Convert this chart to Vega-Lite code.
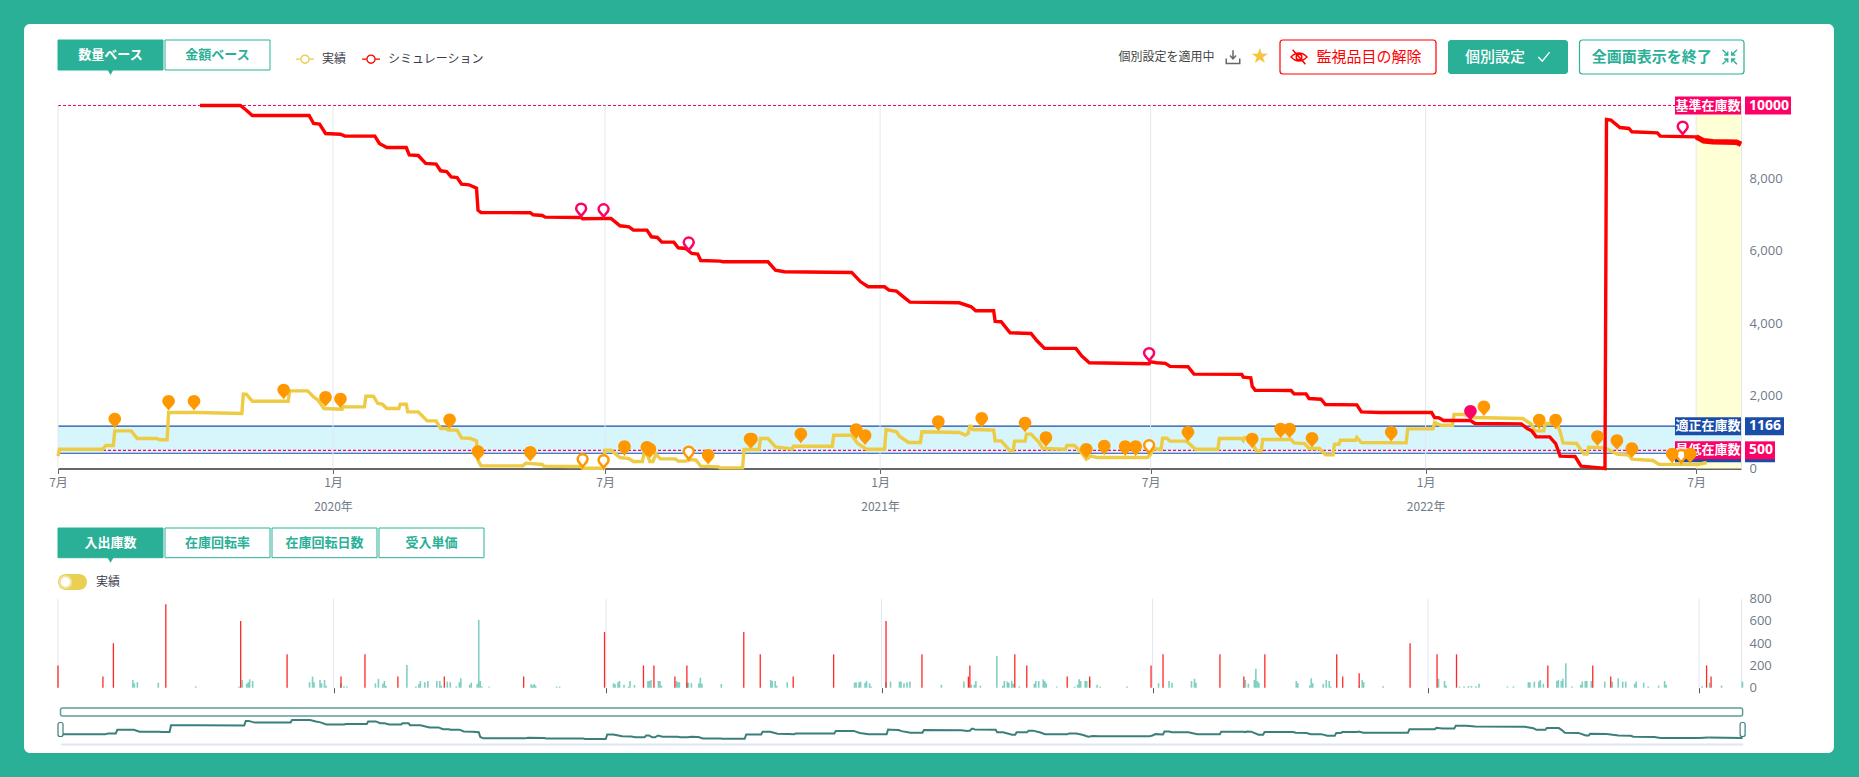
{"$schema":"https://vega.github.io/schema/vega-lite/v6.json","width":1810,"height":729,"autosize":{"type":"none"},"padding":{"left":24,"top":24,"right":25,"bottom":24},"background":"#2bb098","view":{"fill":"#ffffff","stroke":null,"cornerRadius":6},"config":{"font":"Noto Sans CJK JP","text":{"font":"Noto Sans CJK JP"}},
"datasets":{
"stock":[
{"d":"2019-07-01","v":340,"s":"実績"},{"d":"2019-07-02","v":532,"s":"実績"},{"d":"2019-07-31","v":532,"s":"実績"},{"d":"2019-08-02","v":633,"s":"実績"},{"d":"2019-08-07","v":633,"s":"実績"},{"d":"2019-08-08","v":1037,"s":"実績"},{"d":"2019-08-19","v":1037,"s":"実績"},{"d":"2019-08-23","v":826,"s":"実績"},{"d":"2019-09-05","v":826,"s":"実績"},{"d":"2019-09-07","v":790,"s":"実績"},{"d":"2019-09-12","v":790,"s":"実績"},{"d":"2019-09-13","v":1542,"s":"実績"},{"d":"2019-10-02","v":1542,"s":"実績"},{"d":"2019-11-01","v":1515,"s":"実績"},{"d":"2019-11-02","v":2047,"s":"実績"},{"d":"2019-11-04","v":2047,"s":"実績"},{"d":"2019-11-08","v":1854,"s":"実績"},{"d":"2019-12-02","v":1854,"s":"実績"},{"d":"2019-12-03","v":2139,"s":"実績"},{"d":"2019-12-15","v":2139,"s":"実績"},{"d":"2019-12-19","v":1974,"s":"実績"},{"d":"2019-12-22","v":1882,"s":"実績"},{"d":"2019-12-26","v":1652,"s":"実績"},{"d":"2020-01-07","v":1634,"s":"実績"},{"d":"2020-01-08","v":1698,"s":"実績"},{"d":"2020-01-22","v":1698,"s":"実績"},{"d":"2020-01-23","v":1992,"s":"実績"},{"d":"2020-01-28","v":1992,"s":"実績"},{"d":"2020-01-31","v":1790,"s":"実績"},{"d":"2020-02-03","v":1772,"s":"実績"},{"d":"2020-02-06","v":1652,"s":"実績"},{"d":"2020-02-14","v":1652,"s":"実績"},{"d":"2020-02-15","v":1772,"s":"実績"},{"d":"2020-02-19","v":1772,"s":"実績"},{"d":"2020-02-20","v":1560,"s":"実績"},{"d":"2020-02-27","v":1560,"s":"実績"},{"d":"2020-03-04","v":1313,"s":"実績"},{"d":"2020-03-10","v":1313,"s":"実績"},{"d":"2020-03-13","v":1102,"s":"実績"},{"d":"2020-03-17","v":1102,"s":"実績"},{"d":"2020-03-18","v":1056,"s":"実績"},{"d":"2020-03-24","v":1056,"s":"実績"},{"d":"2020-03-27","v":845,"s":"実績"},{"d":"2020-04-02","v":826,"s":"実績"},{"d":"2020-04-06","v":762,"s":"実績"},{"d":"2020-04-07","v":230,"s":"実績"},{"d":"2020-04-09","v":73,"s":"実績"},{"d":"2020-05-07","v":73,"s":"実績"},{"d":"2020-05-09","v":147,"s":"実績"},{"d":"2020-05-20","v":110,"s":"実績"},{"d":"2020-05-21","v":64,"s":"実績"},{"d":"2020-06-08","v":55,"s":"実績"},{"d":"2020-06-15","v":55,"s":"実績"},{"d":"2020-06-16","v":5,"s":"実績"},{"d":"2020-06-30","v":5,"s":"実績"},{"d":"2020-07-01","v":505,"s":"実績"},{"d":"2020-07-05","v":505,"s":"実績"},{"d":"2020-07-11","v":303,"s":"実績"},{"d":"2020-07-17","v":275,"s":"実績"},{"d":"2020-07-20","v":193,"s":"実績"},{"d":"2020-07-26","v":193,"s":"実績"},{"d":"2020-07-27","v":395,"s":"実績"},{"d":"2020-07-29","v":395,"s":"実績"},{"d":"2020-07-31","v":193,"s":"実績"},{"d":"2020-08-02","v":193,"s":"実績"},{"d":"2020-08-04","v":395,"s":"実績"},{"d":"2020-08-07","v":266,"s":"実績"},{"d":"2020-08-17","v":266,"s":"実績"},{"d":"2020-08-19","v":202,"s":"実績"},{"d":"2020-08-24","v":202,"s":"実績"},{"d":"2020-08-26","v":248,"s":"実績"},{"d":"2020-08-31","v":230,"s":"実績"},{"d":"2020-09-03","v":64,"s":"実績"},{"d":"2020-09-15","v":46,"s":"実績"},{"d":"2020-09-16","v":18,"s":"実績"},{"d":"2020-10-01","v":18,"s":"実績"},{"d":"2020-10-02","v":523,"s":"実績"},{"d":"2020-10-12","v":523,"s":"実績"},{"d":"2020-10-13","v":826,"s":"実績"},{"d":"2020-10-18","v":826,"s":"実績"},{"d":"2020-10-23","v":597,"s":"実績"},{"d":"2020-10-30","v":560,"s":"実績"},{"d":"2020-11-03","v":532,"s":"実績"},{"d":"2020-11-04","v":615,"s":"実績"},{"d":"2020-11-30","v":615,"s":"実績"},{"d":"2020-12-01","v":918,"s":"実績"},{"d":"2020-12-13","v":918,"s":"実績"},{"d":"2020-12-17","v":688,"s":"実績"},{"d":"2020-12-23","v":532,"s":"実績"},{"d":"2021-01-04","v":532,"s":"実績"},{"d":"2021-01-05","v":1074,"s":"実績"},{"d":"2021-01-07","v":1056,"s":"実績"},{"d":"2021-01-12","v":1010,"s":"実績"},{"d":"2021-01-14","v":890,"s":"実績"},{"d":"2021-01-20","v":716,"s":"実績"},{"d":"2021-01-28","v":716,"s":"実績"},{"d":"2021-01-29","v":1010,"s":"実績"},{"d":"2021-02-23","v":991,"s":"実績"},{"d":"2021-02-27","v":918,"s":"実績"},{"d":"2021-03-01","v":964,"s":"実績"},{"d":"2021-03-02","v":1166,"s":"実績"},{"d":"2021-03-03","v":1166,"s":"実績"},{"d":"2021-03-04","v":1074,"s":"実績"},{"d":"2021-03-18","v":1056,"s":"実績"},{"d":"2021-03-19","v":762,"s":"実績"},{"d":"2021-03-23","v":762,"s":"実績"},{"d":"2021-03-29","v":487,"s":"実績"},{"d":"2021-03-31","v":487,"s":"実績"},{"d":"2021-04-01","v":753,"s":"実績"},{"d":"2021-04-08","v":753,"s":"実績"},{"d":"2021-04-09","v":946,"s":"実績"},{"d":"2021-04-12","v":946,"s":"実績"},{"d":"2021-04-17","v":734,"s":"実績"},{"d":"2021-04-20","v":551,"s":"実績"},{"d":"2021-05-05","v":532,"s":"実績"},{"d":"2021-05-06","v":633,"s":"実績"},{"d":"2021-05-11","v":633,"s":"実績"},{"d":"2021-05-15","v":477,"s":"実績"},{"d":"2021-05-19","v":257,"s":"実績"},{"d":"2021-05-22","v":340,"s":"実績"},{"d":"2021-05-26","v":303,"s":"実績"},{"d":"2021-06-29","v":303,"s":"実績"},{"d":"2021-07-01","v":395,"s":"実績"},{"d":"2021-07-03","v":551,"s":"実績"},{"d":"2021-07-08","v":523,"s":"実績"},{"d":"2021-07-09","v":835,"s":"実績"},{"d":"2021-07-12","v":835,"s":"実績"},{"d":"2021-07-14","v":753,"s":"実績"},{"d":"2021-07-25","v":753,"s":"実績"},{"d":"2021-07-31","v":532,"s":"実績"},{"d":"2021-08-15","v":532,"s":"実績"},{"d":"2021-08-16","v":826,"s":"実績"},{"d":"2021-08-31","v":826,"s":"実績"},{"d":"2021-09-01","v":770,"s":"実績"},{"d":"2021-09-02","v":854,"s":"実績"},{"d":"2021-09-05","v":826,"s":"実績"},{"d":"2021-09-10","v":477,"s":"実績"},{"d":"2021-09-13","v":477,"s":"実績"},{"d":"2021-09-14","v":799,"s":"実績"},{"d":"2021-10-03","v":799,"s":"実績"},{"d":"2021-10-05","v":707,"s":"実績"},{"d":"2021-10-12","v":688,"s":"実績"},{"d":"2021-10-15","v":551,"s":"実績"},{"d":"2021-10-22","v":551,"s":"実績"},{"d":"2021-10-26","v":376,"s":"実績"},{"d":"2021-10-31","v":376,"s":"実績"},{"d":"2021-11-01","v":670,"s":"実績"},{"d":"2021-11-04","v":670,"s":"実績"},{"d":"2021-11-05","v":780,"s":"実績"},{"d":"2021-11-15","v":780,"s":"実績"},{"d":"2021-11-16","v":854,"s":"実績"},{"d":"2021-11-19","v":716,"s":"実績"},{"d":"2021-12-19","v":707,"s":"実績"},{"d":"2021-12-20","v":1092,"s":"実績"},{"d":"2022-01-06","v":1092,"s":"実績"},{"d":"2022-01-07","v":1267,"s":"実績"},{"d":"2022-01-11","v":1193,"s":"実績"},{"d":"2022-01-19","v":1193,"s":"実績"},{"d":"2022-01-20","v":1487,"s":"実績"},{"d":"2022-01-27","v":1487,"s":"実績"},{"d":"2022-02-02","v":1404,"s":"実績"},{"d":"2022-03-07","v":1377,"s":"実績"},{"d":"2022-03-13","v":1212,"s":"実績"},{"d":"2022-03-15","v":1037,"s":"実績"},{"d":"2022-03-21","v":1037,"s":"実績"},{"d":"2022-03-22","v":1239,"s":"実績"},{"d":"2022-03-30","v":1239,"s":"実績"},{"d":"2022-04-01","v":1010,"s":"実績"},{"d":"2022-04-03","v":707,"s":"実績"},{"d":"2022-04-12","v":688,"s":"実績"},{"d":"2022-04-17","v":395,"s":"実績"},{"d":"2022-04-19","v":395,"s":"実績"},{"d":"2022-04-20","v":588,"s":"実績"},{"d":"2022-05-01","v":569,"s":"実績"},{"d":"2022-05-09","v":395,"s":"実績"},{"d":"2022-05-17","v":367,"s":"実績"},{"d":"2022-05-19","v":257,"s":"実績"},{"d":"2022-06-02","v":220,"s":"実績"},{"d":"2022-06-06","v":119,"s":"実績"},{"d":"2022-07-02","v":110,"s":"実績"},{"d":"2022-07-08","v":165,"s":"実績"},
{"d":"2019-10-04","v":10000,"s":"シミュレーション"},{"d":"2019-10-31","v":10000,"s":"シミュレーション"},{"d":"2019-11-04","v":9871,"s":"シミュレーション"},{"d":"2019-11-08","v":9725,"s":"シミュレーション"},{"d":"2019-12-16","v":9725,"s":"シミュレーション"},{"d":"2019-12-19","v":9504,"s":"シミュレーション"},{"d":"2019-12-23","v":9486,"s":"シミュレーション"},{"d":"2019-12-27","v":9229,"s":"シミュレーション"},{"d":"2020-01-06","v":9210,"s":"シミュレーション"},{"d":"2020-01-09","v":9155,"s":"シミュレーション"},{"d":"2020-01-29","v":9155,"s":"シミュレーション"},{"d":"2020-02-01","v":8953,"s":"シミュレーション"},{"d":"2020-02-06","v":8843,"s":"シミュレーション"},{"d":"2020-02-19","v":8843,"s":"シミュレーション"},{"d":"2020-02-21","v":8641,"s":"シミュレーション"},{"d":"2020-02-27","v":8623,"s":"シミュレーション"},{"d":"2020-03-03","v":8403,"s":"シミュレーション"},{"d":"2020-03-10","v":8384,"s":"シミュレーション"},{"d":"2020-03-13","v":8201,"s":"シミュレーション"},{"d":"2020-03-17","v":8182,"s":"シミュレーション"},{"d":"2020-03-20","v":8035,"s":"シミュレーション"},{"d":"2020-03-24","v":8017,"s":"シミュレーション"},{"d":"2020-03-27","v":7833,"s":"シミュレーション"},{"d":"2020-04-01","v":7815,"s":"シミュレーション"},{"d":"2020-04-06","v":7723,"s":"シミュレーション"},{"d":"2020-04-07","v":7117,"s":"シミュレーション"},{"d":"2020-04-09","v":7053,"s":"シミュレーション"},{"d":"2020-05-12","v":7044,"s":"シミュレーション"},{"d":"2020-05-14","v":6989,"s":"シミュレーション"},{"d":"2020-05-20","v":6970,"s":"シミュレーション"},{"d":"2020-05-22","v":6924,"s":"シミュレーション"},{"d":"2020-06-15","v":6915,"s":"シミュレーション"},{"d":"2020-06-16","v":6880,"s":"シミュレーション"},{"d":"2020-07-05","v":6890,"s":"シミュレーション"},{"d":"2020-07-11","v":6686,"s":"シミュレーション"},{"d":"2020-07-17","v":6658,"s":"シミュレーション"},{"d":"2020-07-20","v":6567,"s":"シミュレーション"},{"d":"2020-07-29","v":6567,"s":"シミュレーション"},{"d":"2020-08-01","v":6383,"s":"シミュレーション"},{"d":"2020-08-05","v":6365,"s":"シミュレーション"},{"d":"2020-08-08","v":6236,"s":"シミュレーション"},{"d":"2020-08-16","v":6236,"s":"シミュレーション"},{"d":"2020-08-19","v":6080,"s":"シミュレーション"},{"d":"2020-08-24","v":6062,"s":"シミュレーション"},{"d":"2020-08-28","v":5924,"s":"シミュレーション"},{"d":"2020-09-01","v":5906,"s":"シミュレーション"},{"d":"2020-09-03","v":5731,"s":"シミュレーション"},{"d":"2020-09-16","v":5713,"s":"シミュレーション"},{"d":"2020-09-18","v":5695,"s":"シミュレーション"},{"d":"2020-10-18","v":5695,"s":"シミュレーション"},{"d":"2020-10-23","v":5465,"s":"シミュレーション"},{"d":"2020-10-29","v":5419,"s":"シミュレーション"},{"d":"2020-12-13","v":5401,"s":"シミュレーション"},{"d":"2020-12-19","v":5143,"s":"シミュレーション"},{"d":"2020-12-24","v":5006,"s":"シミュレーション"},{"d":"2021-01-04","v":5006,"s":"シミュレーション"},{"d":"2021-01-07","v":4914,"s":"シミュレーション"},{"d":"2021-01-12","v":4887,"s":"シミュレーション"},{"d":"2021-01-16","v":4749,"s":"シミュレーション"},{"d":"2021-01-21","v":4584,"s":"シミュレーション"},{"d":"2021-02-23","v":4565,"s":"シミュレーション"},{"d":"2021-03-03","v":4455,"s":"シミュレーション"},{"d":"2021-03-06","v":4345,"s":"シミュレーション"},{"d":"2021-03-18","v":4345,"s":"シミュレーション"},{"d":"2021-03-19","v":4051,"s":"シミュレーション"},{"d":"2021-03-23","v":4042,"s":"シミュレーション"},{"d":"2021-03-29","v":3739,"s":"シミュレーション"},{"d":"2021-04-12","v":3721,"s":"シミュレーション"},{"d":"2021-04-16","v":3519,"s":"シミュレーション"},{"d":"2021-04-21","v":3308,"s":"シミュレーション"},{"d":"2021-05-12","v":3308,"s":"シミュレーション"},{"d":"2021-05-16","v":3097,"s":"シミュレーション"},{"d":"2021-05-21","v":2913,"s":"シミュレーション"},{"d":"2021-06-30","v":2885,"s":"シミュレーション"},{"d":"2021-07-01","v":2940,"s":"シミュレーション"},{"d":"2021-07-05","v":2913,"s":"シミュレーション"},{"d":"2021-07-11","v":2895,"s":"シミュレーション"},{"d":"2021-07-14","v":2812,"s":"シミュレーション"},{"d":"2021-07-26","v":2803,"s":"シミュレーション"},{"d":"2021-07-30","v":2601,"s":"シミュレーション"},{"d":"2021-08-31","v":2592,"s":"シミュレーション"},{"d":"2021-09-01","v":2518,"s":"シミュレーション"},{"d":"2021-09-06","v":2500,"s":"シミュレーション"},{"d":"2021-09-07","v":2267,"s":"シミュレーション"},{"d":"2021-09-09","v":2157,"s":"シミュレーション"},{"d":"2021-10-03","v":2148,"s":"シミュレーション"},{"d":"2021-10-05","v":2056,"s":"シミュレーション"},{"d":"2021-10-13","v":2056,"s":"シミュレーション"},{"d":"2021-10-15","v":1928,"s":"シミュレーション"},{"d":"2021-10-23","v":1909,"s":"シミュレーション"},{"d":"2021-10-26","v":1763,"s":"シミュレーション"},{"d":"2021-11-16","v":1753,"s":"シミュレーション"},{"d":"2021-11-19","v":1560,"s":"シミュレーション"},{"d":"2021-12-02","v":1542,"s":"シミュレーション"},{"d":"2022-01-05","v":1542,"s":"シミュレーション"},{"d":"2022-01-07","v":1404,"s":"シミュレーション"},{"d":"2022-01-10","v":1395,"s":"シミュレーション"},{"d":"2022-01-13","v":1322,"s":"シミュレーション"},{"d":"2022-01-31","v":1322,"s":"シミュレーション"},{"d":"2022-02-03","v":1239,"s":"シミュレーション"},{"d":"2022-03-06","v":1230,"s":"シミュレーション"},{"d":"2022-03-10","v":1102,"s":"シミュレーション"},{"d":"2022-03-13","v":1037,"s":"シミュレーション"},{"d":"2022-03-16","v":872,"s":"シミュレーション"},{"d":"2022-03-25","v":872,"s":"シミュレーション"},{"d":"2022-03-29","v":688,"s":"シミュレーション"},{"d":"2022-04-01","v":340,"s":"シミュレーション"},{"d":"2022-04-11","v":330,"s":"シミュレーション"},{"d":"2022-04-15","v":64,"s":"シミュレーション"},{"d":"2022-04-28","v":18,"s":"シミュレーション"},{"d":"2022-05-01","v":0,"s":"シミュレーション"},{"d":"2022-05-02","v":9614,"s":"シミュレーション"},{"d":"2022-05-05","v":9596,"s":"シミュレーション"},{"d":"2022-05-11","v":9394,"s":"シミュレーション"},{"d":"2022-05-17","v":9367,"s":"シミュレーション"},{"d":"2022-05-19","v":9275,"s":"シミュレーション"},{"d":"2022-06-05","v":9247,"s":"シミュレーション"},{"d":"2022-06-07","v":9155,"s":"シミュレーション"},{"d":"2022-07-01","v":9137,"s":"シミュレーション"},{"d":"2022-07-06","v":9027,"s":"シミュレーション"},{"d":"2022-07-12","v":9000,"s":"シミュレーション"},{"d":"2022-07-28","v":8990,"s":"シミュレーション"},{"d":"2022-07-31","v":8935,"s":"シミュレーション"}
],
"pins":[
{"d":"2019-08-08","v":1102,"p":"実績確定"},{"d":"2019-09-13","v":1588,"p":"実績確定"},{"d":"2019-09-30","v":1588,"p":"実績確定"},{"d":"2019-11-29","v":1900,"p":"実績確定"},{"d":"2019-12-27","v":1698,"p":"実績確定"},{"d":"2020-01-06","v":1652,"p":"実績確定"},{"d":"2020-03-19","v":1083,"p":"実績確定"},{"d":"2020-04-07","v":202,"p":"実績確定"},{"d":"2020-05-12","v":184,"p":"実績確定"},{"d":"2020-07-14","v":340,"p":"実績確定"},{"d":"2020-07-29","v":321,"p":"実績確定"},{"d":"2020-07-31","v":275,"p":"実績確定"},{"d":"2020-09-08","v":101,"p":"実績確定"},{"d":"2020-10-06","v":551,"p":"実績確定"},{"d":"2020-10-07","v":551,"p":"実績確定"},{"d":"2020-11-09","v":688,"p":"実績確定"},{"d":"2020-12-16","v":808,"p":"実績確定"},{"d":"2020-12-22","v":643,"p":"実績確定"},{"d":"2021-02-09","v":1028,"p":"実績確定"},{"d":"2021-03-10","v":1120,"p":"実績確定"},{"d":"2021-04-08","v":991,"p":"実績確定"},{"d":"2021-04-22","v":588,"p":"実績確定"},{"d":"2021-05-19","v":266,"p":"実績確定"},{"d":"2021-05-31","v":358,"p":"実績確定"},{"d":"2021-06-14","v":340,"p":"実績確定"},{"d":"2021-06-21","v":340,"p":"実績確定"},{"d":"2021-07-26","v":734,"p":"実績確定"},{"d":"2021-09-07","v":551,"p":"実績確定"},{"d":"2021-09-26","v":826,"p":"実績確定"},{"d":"2021-10-02","v":826,"p":"実績確定"},{"d":"2021-10-17","v":569,"p":"実績確定"},{"d":"2021-12-09","v":734,"p":"実績確定"},{"d":"2022-02-09","v":1441,"p":"実績確定"},{"d":"2022-03-18","v":1074,"p":"実績確定"},{"d":"2022-03-29","v":1074,"p":"実績確定"},{"d":"2022-04-26","v":615,"p":"実績確定"},{"d":"2022-05-09","v":505,"p":"実績確定"},{"d":"2022-05-19","v":285,"p":"実績確定"},{"d":"2022-06-15","v":138,"p":"実績確定"},{"d":"2022-06-27","v":138,"p":"実績確定"},
{"d":"2020-06-16","v":46,"p":"実績未確定"},{"d":"2020-06-30","v":20,"p":"実績未確定"},{"d":"2020-08-26","v":257,"p":"実績未確定"},{"d":"2021-06-30","v":431,"p":"実績未確定"},{"d":"2022-06-21","v":165,"p":"実績未確定"},
{"d":"2020-06-15","v":6952,"p":"シミュレーション未確定"},{"d":"2020-06-30","v":6934,"p":"シミュレーション未確定"},{"d":"2020-08-26","v":6016,"p":"シミュレーション未確定"},{"d":"2021-06-30","v":2968,"p":"シミュレーション未確定"},{"d":"2022-06-22","v":9210,"p":"シミュレーション未確定"},
{"d":"2022-01-31","v":1313,"p":"シミュレーション確定"}
],
"inbound":[
{"d":"2019-07-01","v":200},{"d":"2019-07-31","v":100},{"d":"2019-08-07","v":400},{"d":"2019-09-11","v":750},{"d":"2019-10-31","v":600},{"d":"2019-12-01","v":300},{"d":"2020-01-06","v":100},{"d":"2020-01-22","v":300},{"d":"2020-02-13","v":100},{"d":"2020-03-15","v":100},{"d":"2020-05-07","v":100},{"d":"2020-06-30","v":500},{"d":"2020-07-26","v":200},{"d":"2020-08-02","v":200},{"d":"2020-08-16","v":100},{"d":"2020-08-24","v":200},{"d":"2020-10-01","v":500},{"d":"2020-10-12","v":300},{"d":"2020-11-03","v":100},{"d":"2020-11-30","v":300},{"d":"2021-01-04","v":600},{"d":"2021-01-28","v":300},{"d":"2021-02-28","v":100},{"d":"2021-03-01","v":200},{"d":"2021-03-31","v":300},{"d":"2021-04-08","v":200},{"d":"2021-05-05","v":100},{"d":"2021-05-20","v":100},{"d":"2021-06-30","v":200},{"d":"2021-07-08","v":300},{"d":"2021-08-15","v":300},{"d":"2021-08-31","v":100},{"d":"2021-09-14","v":300},{"d":"2021-11-01","v":300},{"d":"2021-11-05","v":100},{"d":"2021-11-16","v":130},{"d":"2021-12-20","v":400},{"d":"2022-01-07","v":300},{"d":"2022-01-20","v":300},{"d":"2022-03-22","v":200},{"d":"2022-04-21","v":200},{"d":"2022-05-03","v":100},{"d":"2022-07-06","v":200},{"d":"2022-07-09","v":100}
],
"outbound":[
{"d":"2019-08-20","v":70},{"d":"2019-08-21","v":40},{"d":"2019-08-23","v":50},{"d":"2019-09-06","v":45},{"d":"2019-10-01","v":12},{"d":"2019-10-30","v":10},{"d":"2019-11-01","v":70},{"d":"2019-11-04","v":35},{"d":"2019-11-05","v":50},{"d":"2019-11-06","v":75},{"d":"2019-11-08","v":60},{"d":"2019-12-16","v":50},{"d":"2019-12-18","v":100},{"d":"2019-12-19","v":50},{"d":"2019-12-23","v":70},{"d":"2019-12-24","v":40},{"d":"2019-12-26","v":70},{"d":"2019-12-27","v":18},{"d":"2020-01-06","v":40},{"d":"2020-01-08","v":12},{"d":"2020-01-10","v":10},{"d":"2020-01-29","v":40},{"d":"2020-01-31","v":80},{"d":"2020-02-03","v":35},{"d":"2020-02-04","v":60},{"d":"2020-02-05","v":18},{"d":"2020-02-19","v":205},{"d":"2020-02-25","v":10},{"d":"2020-02-27","v":33},{"d":"2020-02-28","v":60},{"d":"2020-03-02","v":50},{"d":"2020-03-04","v":60},{"d":"2020-03-10","v":60},{"d":"2020-03-12","v":60},{"d":"2020-03-13","v":18},{"d":"2020-03-17","v":55},{"d":"2020-03-19","v":50},{"d":"2020-03-23","v":12},{"d":"2020-03-25","v":50},{"d":"2020-03-26","v":85},{"d":"2020-04-01","v":27},{"d":"2020-04-02","v":45},{"d":"2020-04-06","v":35},{"d":"2020-04-07","v":610},{"d":"2020-04-08","v":60},{"d":"2020-04-09","v":12},{"d":"2020-04-14","v":10},{"d":"2020-05-12","v":30},{"d":"2020-05-13","v":20},{"d":"2020-05-14","v":33},{"d":"2020-05-15","v":20},{"d":"2020-05-29","v":10},{"d":"2020-05-31","v":10},
{"d":"2020-07-06","v":40},{"d":"2020-07-07","v":33},{"d":"2020-07-09","v":50},{"d":"2020-07-10","v":60},{"d":"2020-07-13","v":27},{"d":"2020-07-16","v":10},{"d":"2020-07-17","v":60},{"d":"2020-07-20","v":24},{"d":"2020-07-29","v":60},{"d":"2020-07-30","v":60},{"d":"2020-07-31","v":70},{"d":"2020-08-05","v":60},{"d":"2020-08-06","v":60},{"d":"2020-08-07","v":18},{"d":"2020-08-17","v":60},{"d":"2020-08-18","v":50},{"d":"2020-08-19","v":50},{"d":"2020-08-24","v":45},{"d":"2020-08-25","v":45},{"d":"2020-08-27","v":40},{"d":"2020-09-01","v":40},{"d":"2020-09-02","v":90},{"d":"2020-09-03","v":35},{"d":"2020-09-16","v":33},{"d":"2020-10-19","v":70},{"d":"2020-10-20","v":60},{"d":"2020-10-22","v":60},{"d":"2020-10-23","v":18},{"d":"2020-10-30","v":50},{"d":"2020-12-14","v":45},{"d":"2020-12-15","v":50},{"d":"2020-12-17","v":50},{"d":"2020-12-18","v":55},{"d":"2020-12-21","v":45},{"d":"2020-12-22","v":60},{"d":"2020-12-24","v":40},{"d":"2020-12-25","v":10},{"d":"2021-01-04","v":50},{"d":"2021-01-07","v":55},{"d":"2021-01-13","v":55},{"d":"2021-01-14","v":55},{"d":"2021-01-16","v":40},{"d":"2021-01-18","v":50},{"d":"2021-01-20","v":55},{"d":"2021-02-10","v":27},{"d":"2021-02-25","v":55},{"d":"2021-03-02","v":27},{"d":"2021-03-04","v":27},{"d":"2021-03-05","v":60},{"d":"2021-03-08","v":18},{"d":"2021-03-19","v":285},{"d":"2021-03-23","v":18},{"d":"2021-03-24","v":60},{"d":"2021-03-26","v":55},{"d":"2021-03-27","v":45},{"d":"2021-03-29","v":60},{"d":"2021-03-30","v":35},{"d":"2021-04-03","v":12},{"d":"2021-04-13","v":35},{"d":"2021-04-14","v":60},{"d":"2021-04-16","v":60},{"d":"2021-04-19","v":75},{"d":"2021-04-20","v":60},{"d":"2021-04-21","v":40},{"d":"2021-04-28","v":10},{"d":"2021-05-10","v":10},{"d":"2021-05-12","v":27},{"d":"2021-05-13","v":75},{"d":"2021-05-14","v":60},{"d":"2021-05-17","v":60},{"d":"2021-05-18","v":60},{"d":"2021-05-20","v":70},
{"d":"2021-05-25","v":27},{"d":"2021-05-27","v":10},{"d":"2021-06-14","v":10},{"d":"2021-07-05","v":40},{"d":"2021-07-12","v":60},{"d":"2021-07-14","v":45},{"d":"2021-07-27","v":60},{"d":"2021-07-29","v":80},{"d":"2021-07-30","v":45},{"d":"2021-09-01","v":70},{"d":"2021-09-03","v":35},{"d":"2021-09-07","v":70},{"d":"2021-09-08","v":170},{"d":"2021-09-09","v":60},{"d":"2021-09-10","v":45},{"d":"2021-10-05","v":60},{"d":"2021-10-06","v":40},{"d":"2021-10-14","v":20},{"d":"2021-10-15","v":85},{"d":"2021-10-16","v":40},{"d":"2021-10-23","v":35},{"d":"2021-10-25","v":70},{"d":"2021-10-27","v":60},{"d":"2021-10-28","v":10},{"d":"2021-11-16","v":12},{"d":"2021-11-18","v":70},{"d":"2021-11-19","v":50},{"d":"2021-12-02","v":12},{"d":"2022-01-08","v":80},{"d":"2022-01-12","v":60},{"d":"2022-01-13","v":20},{"d":"2022-01-22","v":10},{"d":"2022-01-25","v":10},{"d":"2022-01-28","v":15},{"d":"2022-01-30","v":15},{"d":"2022-02-02","v":12},{"d":"2022-02-04","v":35},{"d":"2022-02-23","v":10},{"d":"2022-02-27","v":12},{"d":"2022-03-09","v":50},{"d":"2022-03-10","v":50},{"d":"2022-03-13","v":55},{"d":"2022-03-16","v":55},{"d":"2022-03-17","v":70},{"d":"2022-03-19","v":35},{"d":"2022-03-28","v":60},{"d":"2022-03-29","v":70},{"d":"2022-03-31","v":60},{"d":"2022-04-01","v":80},{"d":"2022-04-03","v":220},{"d":"2022-04-07","v":10},{"d":"2022-04-13","v":27},{"d":"2022-04-14","v":55},{"d":"2022-04-16","v":60},{"d":"2022-04-17","v":60},{"d":"2022-04-20","v":60},{"d":"2022-04-29","v":55},{"d":"2022-05-04","v":55},{"d":"2022-05-08","v":85},{"d":"2022-05-11","v":55},{"d":"2022-05-13","v":55},{"d":"2022-05-19","v":35},{"d":"2022-05-20","v":55},{"d":"2022-05-25","v":45},{"d":"2022-05-28","v":10},{"d":"2022-06-04","v":18},{"d":"2022-06-08","v":60},{"d":"2022-06-09","v":27},{"d":"2022-07-03","v":12},{"d":"2022-07-08","v":45},{"d":"2022-07-16","v":18},{"d":"2022-07-30","v":55}
],
"months":[{"d":"2019-07-01"},{"d":"2020-01-01"},{"d":"2020-07-01"},{"d":"2021-01-01"},{"d":"2021-07-01"},{"d":"2022-01-01"},{"d":"2022-07-01"}],
"limits":[{"name":"基準在庫数","value":10000,"kind":"警戒","from":"2019-07-01","to":"2022-07-31"},{"name":"適正在庫数","value":1166,"kind":"管理","from":"2019-07-01","to":"2022-07-31"},{"name":"下限","value":420,"kind":"管理","from":"2019-07-01","to":"2022-07-31"},{"name":"最低在庫数","value":500,"kind":"警戒","from":"2019-07-01","to":"2022-07-31"}]
},
"resolve":{"scale":{"x":"independent","y":"independent","color":"independent","fill":"independent","stroke":"independent","strokeDash":"independent","opacity":"independent","size":"independent","shape":"independent"},"axis":{"x":"independent","y":"independent"},"legend":{"stroke":"independent","color":"independent","fill":"independent"}},
"layer":[
{"data":{"values":[{"tab":"数量ベース","selected":"on"},{"tab":"金額ベース","selected":"off"}]},
"encoding":{"x":{"field":"tab","type":"nominal","sort":null,"axis":null,"scale":{"type":"band","range":[34,246],"paddingInner":0.0187,"paddingOuter":0}},"y":{"datum":"表示基準","type":"nominal","axis":null,"scale":{"type":"band","range":[16,46],"padding":0}}},
"layer":[
{"mark":{"type":"rect","stroke":"#2bb098","strokeWidth":1},"encoding":{"fill":{"field":"selected","type":"nominal","scale":{"domain":["on","off"],"range":["#2bb098","#ffffff"]},"legend":null}}},
{"mark":{"type":"text","fontSize":13,"fontWeight":"bold","font":"Noto Sans CJK JP"},"encoding":{"text":{"field":"tab","type":"nominal"},"color":{"field":"selected","type":"nominal","scale":{"domain":["on","off"],"range":["#ffffff","#2bb098"]},"legend":null}}},
{"transform":[{"filter":"datum.selected==='on'"}],"mark":{"type":"point","shape":"triangle-down","filled":true,"size":45,"color":"#2bb098","opacity":1,"yOffset":17}}
]},
{"data":{"values":[{"label":"個別設定を適用中"}]},"mark":{"type":"text","fontSize":12,"color":"#444444","font":"Noto Sans CJK JP"},"encoding":{"x":{"field":"label","type":"nominal","axis":null,"scale":{"type":"band","range":[1094,1191],"padding":0}},"y":{"field":"label","type":"nominal","axis":null,"scale":{"type":"band","range":[24,42],"padding":0}},"text":{"field":"label","type":"nominal"}}},
{"data":{"values":[{"icon":"ダウンロード"},{"icon":"お気に入り"}]},
"encoding":{"x":{"field":"icon","type":"nominal","sort":null,"axis":null,"scale":{"type":"point","range":[1209,1236],"padding":0}},"y":{"datum":"操作","type":"nominal","axis":null,"scale":{"type":"point","range":[33,33],"padding":0}}},
"layer":[
{"transform":[{"filter":"datum.icon==='ダウンロード'"}],"mark":{"type":"point","filled":false,"opacity":1,"stroke":"#666666","strokeWidth":1.5,"size":225,"shape":"M0 -.9V.2M-.4 -.2L0 .25L.4 -.2M-.9 .2V.85H.9V.2"}},
{"transform":[{"filter":"datum.icon==='お気に入り'"}],"mark":{"type":"text","text":"★","fontSize":21,"color":"#f5c542","font":"DejaVu Sans"}}
]},
{"data":{"values":[{"label":"監視品目の解除"}]},
"encoding":{"x":{"field":"label","type":"nominal","axis":null,"scale":{"type":"band","range":[1256,1412],"padding":0}},"y":{"field":"label","type":"nominal","axis":null,"scale":{"type":"band","range":[16,50],"padding":0}}},
"layer":[
{"mark":{"type":"rect","fill":"#ffffff","stroke":"#ff0000","strokeWidth":1.2,"cornerRadius":3}},
{"mark":{"type":"text","fontSize":15,"color":"#ff0000","font":"Noto Sans CJK JP","dx":11},"encoding":{"text":{"field":"label","type":"nominal"}}},
{"mark":{"type":"point","filled":false,"opacity":1,"stroke":"#ff0000","strokeWidth":1.5,"size":256,"xOffset":-59,"shape":"M-1 0Q0 -1 1 0Q0 1 -1 0ZM-.8 -.9L.8 .9M.35 0A.35 .35 0 1 1 -.35 0A.35 .35 0 1 1 .35 0"}}
]},
{"data":{"values":[{"label":"個別設定"}]},
"encoding":{"x":{"field":"label","type":"nominal","axis":null,"scale":{"type":"band","range":[1424,1544],"padding":0}},"y":{"field":"label","type":"nominal","axis":null,"scale":{"type":"band","range":[16,50],"padding":0}}},
"layer":[
{"mark":{"type":"rect","fill":"#2bb098","cornerRadius":3}},
{"mark":{"type":"text","fontSize":15,"fontWeight":500,"color":"#ffffff","font":"Noto Sans CJK JP","dx":-13},"encoding":{"text":{"field":"label","type":"nominal"}}},
{"mark":{"type":"point","filled":false,"opacity":1,"stroke":"#ffffff","strokeWidth":1.3,"size":196,"xOffset":36,"shape":"M-.8 0L-.25 .6L.8 -.7"}}
]},
{"data":{"values":[{"label":"全画面表示を終了"}]},
"encoding":{"x":{"field":"label","type":"nominal","axis":null,"scale":{"type":"band","range":[1555.5,1720],"padding":0}},"y":{"field":"label","type":"nominal","axis":null,"scale":{"type":"band","range":[16,50],"padding":0}}},
"layer":[
{"mark":{"type":"rect","fill":"#ffffff","stroke":"#2bb098","strokeWidth":1.2,"cornerRadius":3}},
{"mark":{"type":"text","fontSize":15,"fontWeight":"bold","color":"#2bb098","font":"Noto Sans CJK JP","dx":-10},"encoding":{"text":{"field":"label","type":"nominal"}}},
{"mark":{"type":"point","filled":false,"opacity":1,"stroke":"#2bb098","strokeWidth":1.3,"size":256,"xOffset":68,"shape":"M-.9 -.9L-.25 -.25M-.25 -.7V-.25H-.7M.9 -.9L.25 -.25M.25 -.7V-.25H.7M-.9 .9L-.25 .25M-.25 .7V.25H-.7M.9 .9L.25 .25M.25 .7V.25H.7"}}
]},
{"layer":[
{"data":{"values":[{"from":"2022-07-01","to":"2022-07-31"}]},"mark":{"type":"rect","fill":"#ffffd6"},"encoding":{
"x":{"field":"from","type":"temporal","axis":null,"scale":{"type":"utc","domain":[{"year":2019,"month":7,"date":1,"utc":true},{"year":2022,"month":7,"date":31,"utc":true}],"range":[34,1717]}},
"x2":{"field":"to"},
"y":{"datum":0,"type":"quantitative","axis":null,"scale":{"type":"linear","domain":[0,10000],"range":[444.5,81.5]}},
"y2":{"datum":10000}}},
{"data":{"values":[{"from":"2019-07-01","to":"2022-07-31"}]},"mark":{"type":"rect","fill":"#d6f6fb"},"encoding":{
"x":{"field":"from","type":"temporal","axis":null,"scale":{"type":"utc","domain":[{"year":2019,"month":7,"date":1,"utc":true},{"year":2022,"month":7,"date":31,"utc":true}],"range":[34,1717]}},"x2":{"field":"to"},"y":{"datum":420,"type":"quantitative","axis":null,"scale":{"type":"linear","domain":[0,10000],"range":[444.5,81.5]}},"y2":{"datum":1166}}},
{"data":{"name":"limits"},"transform":[{"filter":"datum.kind==='管理'"}],"mark":{"type":"rule","color":"#1a4da8","strokeWidth":1.2},"encoding":{
"x":{"field":"from","type":"temporal","axis":null,"scale":{"type":"utc","domain":[{"year":2019,"month":7,"date":1,"utc":true},{"year":2022,"month":7,"date":31,"utc":true}],"range":[34,1717]}},"x2":{"field":"to"},"y":{"field":"value","type":"quantitative","axis":null,"scale":{"type":"linear","domain":[0,10000],"range":[444.5,81.5]}}}},
{"data":{"name":"limits"},"transform":[{"filter":"datum.kind==='警戒'"}],"mark":{"type":"rule","color":"#ff0066","strokeWidth":1.1,"strokeDash":[3,2]},"encoding":{
"x":{"field":"from","type":"temporal","axis":null,"scale":{"type":"utc","domain":[{"year":2019,"month":7,"date":1,"utc":true},{"year":2022,"month":7,"date":31,"utc":true}],"range":[34,1717]}},"x2":{"field":"to"},"y":{"field":"value","type":"quantitative","axis":null,"scale":{"type":"linear","domain":[0,10000],"range":[444.5,81.5]}}}}
]},
{"data":{"name":"months"},"mark":{"type":"rule","color":"#e3e7f1","strokeWidth":1},"encoding":{
"x":{"field":"d","type":"temporal","scale":{"type":"utc","domain":[{"year":2019,"month":7,"date":1,"utc":true},{"year":2022,"month":7,"date":31,"utc":true}],"range":[34,1717]},"axis":{"orient":"bottom","offset":-284.5,"title":null,"values":[{"year":2019,"month":7,"date":1,"utc":true},{"year":2020,"month":1,"date":1,"utc":true},{"year":2020,"month":7,"date":1,"utc":true},{"year":2021,"month":1,"date":1,"utc":true},{"year":2021,"month":7,"date":1,"utc":true},{"year":2022,"month":1,"date":1,"utc":true},{"year":2022,"month":7,"date":1,"utc":true}],"labelExpr":"utcmonth(datum.value)===0 ? ['1月', utcyear(datum.value)+'年'] : '7月'","labelLineHeight":24,"labelOverlap":false,"labelFlush":false,"grid":false,"tickSize":5,"tickColor":"#666666","domainColor":"#666666","domainWidth":2,"labelColor":"#707a86","labelFont":"Noto Sans CJK JP","labelFontSize":12,"labelPadding":4}},
"y":{"datum":0,"type":"quantitative","scale":{"type":"linear","domain":[0,10000],"range":[444.5,81.5]},"axis":{"orient":"right","offset":-93,"title":null,"values":[0,2000,4000,6000,8000],"format":",.0f","grid":false,"ticks":false,"domainColor":"#dfe4ee","labelPadding":8,"labelFont":"Open Sans","labelFontSize":13,"labelColor":"#707a86"}},
"y2":{"datum":10000}}},
{"data":{"name":"limits"},
"encoding":{"x":{"datum":"名称","type":"nominal","axis":null,"scale":{"type":"point","domain":["名称","値"],"range":[1684,1721],"padding":0}},"y":{"field":"value","type":"quantitative","axis":null,"scale":{"type":"linear","domain":[0,10000],"range":[444.5,81.5]}},"color":{"field":"kind","type":"nominal","legend":null,"scale":{"domain":["管理","警戒"],"range":["#1a4da8","#ff0066"]}}},
"layer":[
{"mark":{"type":"tick","orient":"horizontal","size":66,"thickness":18,"opacity":1}},
{"transform":[{"filter":"datum.value===10000"}],"mark":{"type":"tick","orient":"horizontal","size":46,"thickness":18,"opacity":1,"xOffset":23},"encoding":{"x":{"datum":"値","type":"nominal","axis":null,"scale":{"type":"point","domain":["名称","値"],"range":[1684,1721],"padding":0}}}},
{"transform":[{"filter":"datum.value===1166"}],"mark":{"type":"tick","orient":"horizontal","size":39,"thickness":18,"opacity":1,"xOffset":19.5},"encoding":{"x":{"datum":"値","type":"nominal","axis":null,"scale":{"type":"point","domain":["名称","値"],"range":[1684,1721],"padding":0}}}},
{"transform":[{"filter":"datum.value<1000"}],"mark":{"type":"tick","orient":"horizontal","size":30,"thickness":18,"opacity":1,"xOffset":15},"encoding":{"x":{"datum":"値","type":"nominal","axis":null,"scale":{"type":"point","domain":["名称","値"],"range":[1684,1721],"padding":0}}}},
{"transform":[{"filter":"datum.value!==420"}],"mark":{"type":"text","fontSize":13,"fontWeight":"bold","font":"Noto Sans CJK JP"},"encoding":{"text":{"field":"name","type":"nominal"},"color":{"value":"#ffffff"}}},
{"transform":[{"filter":"datum.value!==420"}],"mark":{"type":"text","align":"left","dx":4,"fontSize":14,"fontWeight":"bold","font":"Open Sans"},"encoding":{"x":{"datum":"値","type":"nominal","axis":null,"scale":{"type":"point","domain":["名称","値"],"range":[1684,1721],"padding":0}},"text":{"field":"value","type":"nominal"},"color":{"value":"#ffffff"}}}
]},
{"encoding":{"x":{"field":"d","type":"temporal","axis":null,"scale":{"type":"utc","domain":[{"year":2019,"month":7,"date":1,"utc":true},{"year":2022,"month":7,"date":31,"utc":true}],"range":[34,1717]}},"y":{"field":"v","type":"quantitative","axis":null,"scale":{"type":"linear","domain":[0,10000],"range":[444.5,81.5]}}},
"layer":[
{"data":{"name":"stock"},"mark":{"type":"line","strokeWidth":3.4,"interpolate":"linear"},"encoding":{"stroke":{"field":"s","type":"nominal","sort":null,"scale":{"domain":["実績","シミュレーション"],"range":["#eecb45","#ff0000"]},"legend":{"orient":"none","legendX":271,"legendY":25,"direction":"horizontal","columns":2,"title":null,"symbolType":"M-1 0H-.45M.45 0H1M.45 0A.45 .45 0 1 1 -.45 0A.45 .45 0 1 1 .45 0","symbolSize":324,"symbolStrokeWidth":1.3,"symbolFillColor":"transparent","labelFont":"Noto Sans CJK JP","labelFontSize":12,"labelColor":"#3a3a4a","labelOffset":7,"columnPadding":12}}}},
{"data":{"name":"stock"},"transform":[{"filter":"datum.s==='シミュレーション' && time(datum.d)>=utc(2022,6,1)"}],"mark":{"type":"line","strokeWidth":5.5,"color":"#ff0000"}},
{"data":{"name":"pins"},"transform":[{"filter":"datum.p==='実績未確定'"}],"mark":{"type":"point","filled":true,"fill":"#ffffff","stroke":"#ff9800","strokeWidth":2.5,"opacity":1,"size":400,"shape":"M0 0C-.12 -.25 -.5 -.45 -.5 -.75A.5 .5 0 1 1 .5 -.75C.5 -.45 .12 -.25 0 0Z"}},
{"data":{"name":"pins"},"transform":[{"filter":"datum.p==='シミュレーション未確定'"}],"mark":{"type":"point","filled":true,"fill":"#ffffff","stroke":"#ff0066","strokeWidth":2.5,"opacity":1,"size":400,"shape":"M0 0C-.12 -.25 -.5 -.45 -.5 -.75A.5 .5 0 1 1 .5 -.75C.5 -.45 .12 -.25 0 0Z"}},
{"data":{"name":"pins"},"transform":[{"filter":"datum.p==='実績確定'"}],"mark":{"type":"point","filled":true,"color":"#ff9800","opacity":1,"size":640,"shape":"M0 0C-.12 -.25 -.5 -.45 -.5 -.75A.5 .5 0 1 1 .5 -.75C.5 -.45 .12 -.25 0 0Z"}},
{"data":{"name":"pins"},"transform":[{"filter":"datum.p==='シミュレーション確定'"}],"mark":{"type":"point","filled":true,"color":"#ff0066","opacity":1,"size":640,"shape":"M0 0C-.12 -.25 -.5 -.45 -.5 -.75A.5 .5 0 1 1 .5 -.75C.5 -.45 .12 -.25 0 0Z"}}
]},
{"data":{"values":[{"tab":"入出庫数","selected":"on"},{"tab":"在庫回転率","selected":"off"},{"tab":"在庫回転日数","selected":"off"},{"tab":"受入単価","selected":"off"}]},
"encoding":{"x":{"field":"tab","type":"nominal","sort":null,"axis":null,"scale":{"type":"band","range":[34,460],"paddingInner":0.0187,"paddingOuter":0}},"y":{"datum":"指標","type":"nominal","axis":null,"scale":{"type":"band","range":[504,533.7],"padding":0}}},
"layer":[
{"mark":{"type":"rect","stroke":"#2bb098","strokeWidth":1},"encoding":{"fill":{"field":"selected","type":"nominal","scale":{"domain":["on","off"],"range":["#2bb098","#ffffff"]},"legend":null}}},
{"mark":{"type":"text","fontSize":13,"fontWeight":"bold","font":"Noto Sans CJK JP"},"encoding":{"text":{"field":"tab","type":"nominal"},"color":{"field":"selected","type":"nominal","scale":{"domain":["on","off"],"range":["#ffffff","#2bb098"]},"legend":null}}},
{"transform":[{"filter":"datum.selected==='on'"}],"mark":{"type":"point","shape":"triangle-down","filled":true,"size":45,"color":"#2bb098","opacity":1,"yOffset":17}}
]},
{"data":{"values":[{"series":"実績"}]},
"encoding":{"x":{"field":"series","type":"nominal","axis":null,"scale":{"type":"band","range":[34,63],"padding":0}},"y":{"field":"series","type":"nominal","axis":null,"scale":{"type":"band","range":[550,566],"padding":0}}},
"layer":[
{"mark":{"type":"rect","fill":"#ead052","cornerRadius":8}},
{"mark":{"type":"point","filled":true,"fill":"#ffffff","stroke":"#f2e3a0","opacity":1,"size":130,"xOffset":-7}},
{"mark":{"type":"text","align":"left","dx":23.5,"fontSize":12,"color":"#3a3a4a","font":"Noto Sans CJK JP"},"encoding":{"text":{"field":"series","type":"nominal"}}}
]},
{"data":{"name":"months"},"mark":{"type":"rule","color":"#e3e7f1","strokeWidth":1},"encoding":{
"x":{"field":"d","type":"temporal","scale":{"type":"utc","domain":[{"year":2019,"month":7,"date":1,"utc":true},{"year":2022,"month":7,"date":29,"utc":true}],"range":[34,1717]},"axis":{"orient":"bottom","offset":-65.3,"title":null,"values":[{"year":2020,"month":1,"date":1,"utc":true},{"year":2020,"month":7,"date":1,"utc":true},{"year":2021,"month":1,"date":1,"utc":true},{"year":2021,"month":7,"date":1,"utc":true},{"year":2022,"month":1,"date":1,"utc":true},{"year":2022,"month":7,"date":1,"utc":true}],"labels":false,"domain":false,"grid":false,"tickSize":5,"tickColor":"#555555"}},
"y":{"datum":0,"type":"quantitative","scale":{"type":"linear","domain":[0,800],"range":[663.7,574.7]},"axis":{"orient":"right","offset":-93,"title":null,"values":[0,200,400,600,800],"grid":false,"ticks":false,"domainColor":"#dfe4ee","labelPadding":8,"labelFont":"Open Sans","labelFontSize":13,"labelColor":"#707a86"}},
"y2":{"datum":800}}},
{"encoding":{"x":{"field":"d","type":"temporal","axis":null,"scale":{"type":"utc","padding":0,"domain":[{"year":2019,"month":7,"date":1,"utc":true},{"year":2022,"month":7,"date":29,"utc":true}],"range":[34,1717]}},"y":{"field":"v","type":"quantitative","axis":null,"scale":{"type":"linear","domain":[0,800],"range":[663.7,574.7]}}},
"layer":[
{"data":{"name":"outbound"},"mark":{"type":"bar","size":1.6,"color":"#2bb098","opacity":0.6}},
{"data":{"name":"inbound"},"mark":{"type":"bar","size":1.3,"color":"#ff0000","opacity":0.85}}
]},
{"data":{"values":[{"d":"2019-07-01","to":"2022-07-31"}]},"mark":{"type":"rect","fill":"#ffffff","stroke":"#5f9e98","strokeWidth":1.5,"cornerRadius":2},"encoding":{"x":{"field":"d","type":"temporal","axis":null,"scale":{"type":"utc","domain":[{"year":2019,"month":7,"date":1,"utc":true},{"year":2022,"month":7,"date":31,"utc":true}],"range":[36.5,1718.6]}},"x2":{"field":"to"},"y":{"datum":3500,"type":"quantitative","axis":null,"scale":{"type":"linear","domain":[0,2150],"range":[715,696]}},"y2":{"datum":2600}}},
{"encoding":{"x":{"field":"d","type":"temporal","scale":{"type":"utc","domain":[{"year":2019,"month":7,"date":1,"utc":true},{"year":2022,"month":7,"date":31,"utc":true}],"range":[36.5,1718.6]},"axis":{"orient":"bottom","offset":-9,"title":null,"labels":false,"ticks":false,"grid":false,"domainColor":"#dfe5f5","domainWidth":2}},"y":{"field":"v","type":"quantitative","axis":null,"scale":{"type":"linear","domain":[0,2150],"range":[715,696]}}},
"layer":[
{"data":{"name":"stock"},"transform":[{"filter":"datum.s==='実績'"}],"mark":{"type":"line","color":"#3b7f7c","strokeWidth":2}},
{"data":{"values":[{"d":"2022-07-08","v":165},{"d":"2022-07-31","v":110}]},"mark":{"type":"line","color":"#3b7f7c","strokeWidth":2}},
{"data":{"values":[{"d":"2019-07-01","v":1075},{"d":"2022-07-31","v":1075}]},"mark":{"type":"tick","orient":"vertical","size":14,"thickness":5,"fill":"#ffffff","stroke":"#3b7f7c","strokeWidth":1.2,"opacity":1,"cornerRadius":2}}
]}
]}
